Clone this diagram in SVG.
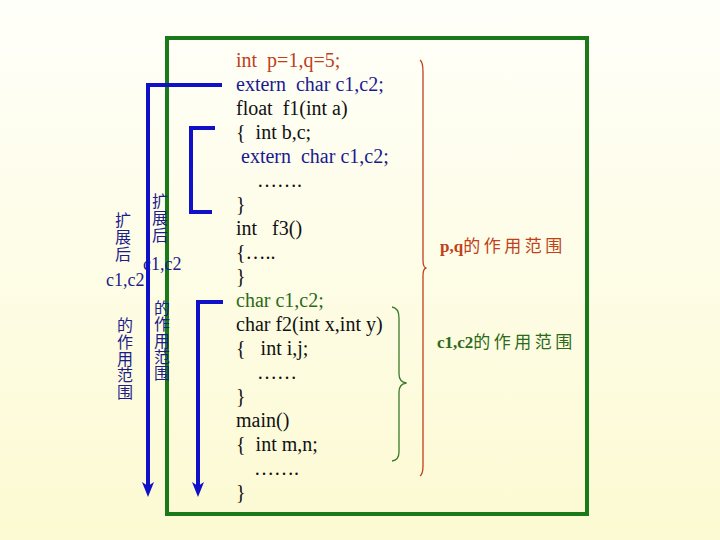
<svg xmlns="http://www.w3.org/2000/svg" width="720" height="540" viewBox="0 0 720 540">
  <defs>
    <linearGradient id="bg" x1="0" y1="0" x2="0" y2="1">
      <stop offset="0" stop-color="#fffffa"/>
      <stop offset="1" stop-color="#fcfad2"/>
    </linearGradient>
    <style>
      .code { font-family: "Liberation Serif", "Times New Roman", serif; font-size: 20px; fill: #111; }
      .red { fill: #c0401a; }
      .blue { fill: #1a1a90; }
      .green { fill: #2a6a1a; }
      .vert { font-family: "Noto Sans CJK SC", sans-serif; font-size: 16px; fill: #1c1c8c; writing-mode: vertical-rl; }
      .vlat { font-family: "Liberation Serif", serif; font-size: 18px; fill: #1c1c8c; }
      .lab { font-family: "Noto Sans CJK SC", sans-serif; font-size: 17px; letter-spacing: 3.5px; }
      .labl { font-family: "Liberation Serif", serif; font-size: 17px; font-weight: bold; letter-spacing: 0; }
      .bl { fill: none; stroke: #1010c8; stroke-width: 4; }
      .head { fill: #1010c8; }
      .brace { fill: none; stroke-width: 1.3; }
    </style>
  </defs>
  <rect width="720" height="540" fill="url(#bg)"/>

  <g id="frame">
    <rect x="167" y="38" width="420" height="476" fill="none" stroke="#1a7a1a" stroke-width="4"/>
  </g>

  <g id="code" class="code">
    <text x="236" y="67" class="red">int&#160; p=1,q=5;</text>
    <text x="236" y="91" class="blue">extern&#160; char c1,c2;</text>
    <text x="236" y="115">float&#160; f1(int a)</text>
    <text x="236" y="139">{&#160; int b,c;</text>
    <text x="241" y="163" class="blue">extern&#160; char c1,c2;</text>
    <text x="257" y="187">…….</text>
    <text x="236" y="211">}</text>
    <text x="236" y="235">int&#160;&#160; f3()</text>
    <text x="236" y="259">{…..</text>
    <text x="236" y="283">}</text>
    <text x="236" y="307" class="green">char c1,c2;</text>
    <text x="236" y="331">char f2(int x,int y)</text>
    <text x="236" y="355">{&#160;&#160; int i,j;</text>
    <text x="257" y="379">……</text>
    <text x="236" y="403">}</text>
    <text x="236" y="427">main()</text>
    <text x="236" y="451">{&#160; int m,n;</text>
    <text x="254" y="475">…….</text>
    <text x="236" y="499">}</text>
  </g>

  <g id="scope-left-outer">
    <text x="123" y="212" class="vert" letter-spacing="1">扩展后</text>
    <text x="106" y="286" class="vlat">c1,c2</text>
    <text x="125" y="317" class="vert" letter-spacing="0.75">的作用范围</text>
  </g>

  <g id="scope-left-inner">
    <text x="160" y="193" class="vert" letter-spacing="1">扩展后</text>
    <text x="143" y="270" class="vlat">c1,c2</text>
    <text x="162" y="300" class="vert" letter-spacing="0.25">的作用范围</text>
  </g>

  <g id="label-pq">
    <text x="440" y="252" class="lab" fill="#c0401a"><tspan class="labl">p,q</tspan>的作用范围</text>
  </g>
  <g id="label-c1c2">
    <text x="437" y="348" class="lab" fill="#2a6a1a"><tspan class="labl">c1,c2</tspan>的作用范围</text>
  </g>

  <g id="connectors">
    <path class="bl" d="M222,85 L148,85 L148,487"/>
    <polygon class="head" points="142,482 148,486 154,482 148,497"/>
    <path class="bl" d="M215,128 L191,128 L191,212 L212,212"/>
    <path class="bl" d="M223,302 L198,302 L198,487"/>
    <polygon class="head" points="192,482 198,486 204,482 198,497"/>
    <path class="brace" stroke="#c04020" d="M420,60 Q423,62 423,72 L423,260 Q423,268 426.5,268 Q423,268 423,276 L423,466 Q423,474 420,476"/>
    <path class="brace" stroke="#3a7a2a" d="M392,307 Q399,308 399,318 L399,374 Q399,382 406.5,383 Q399,384 399,392 L399,452 Q399,460 392,461"/>
  </g>
</svg>
